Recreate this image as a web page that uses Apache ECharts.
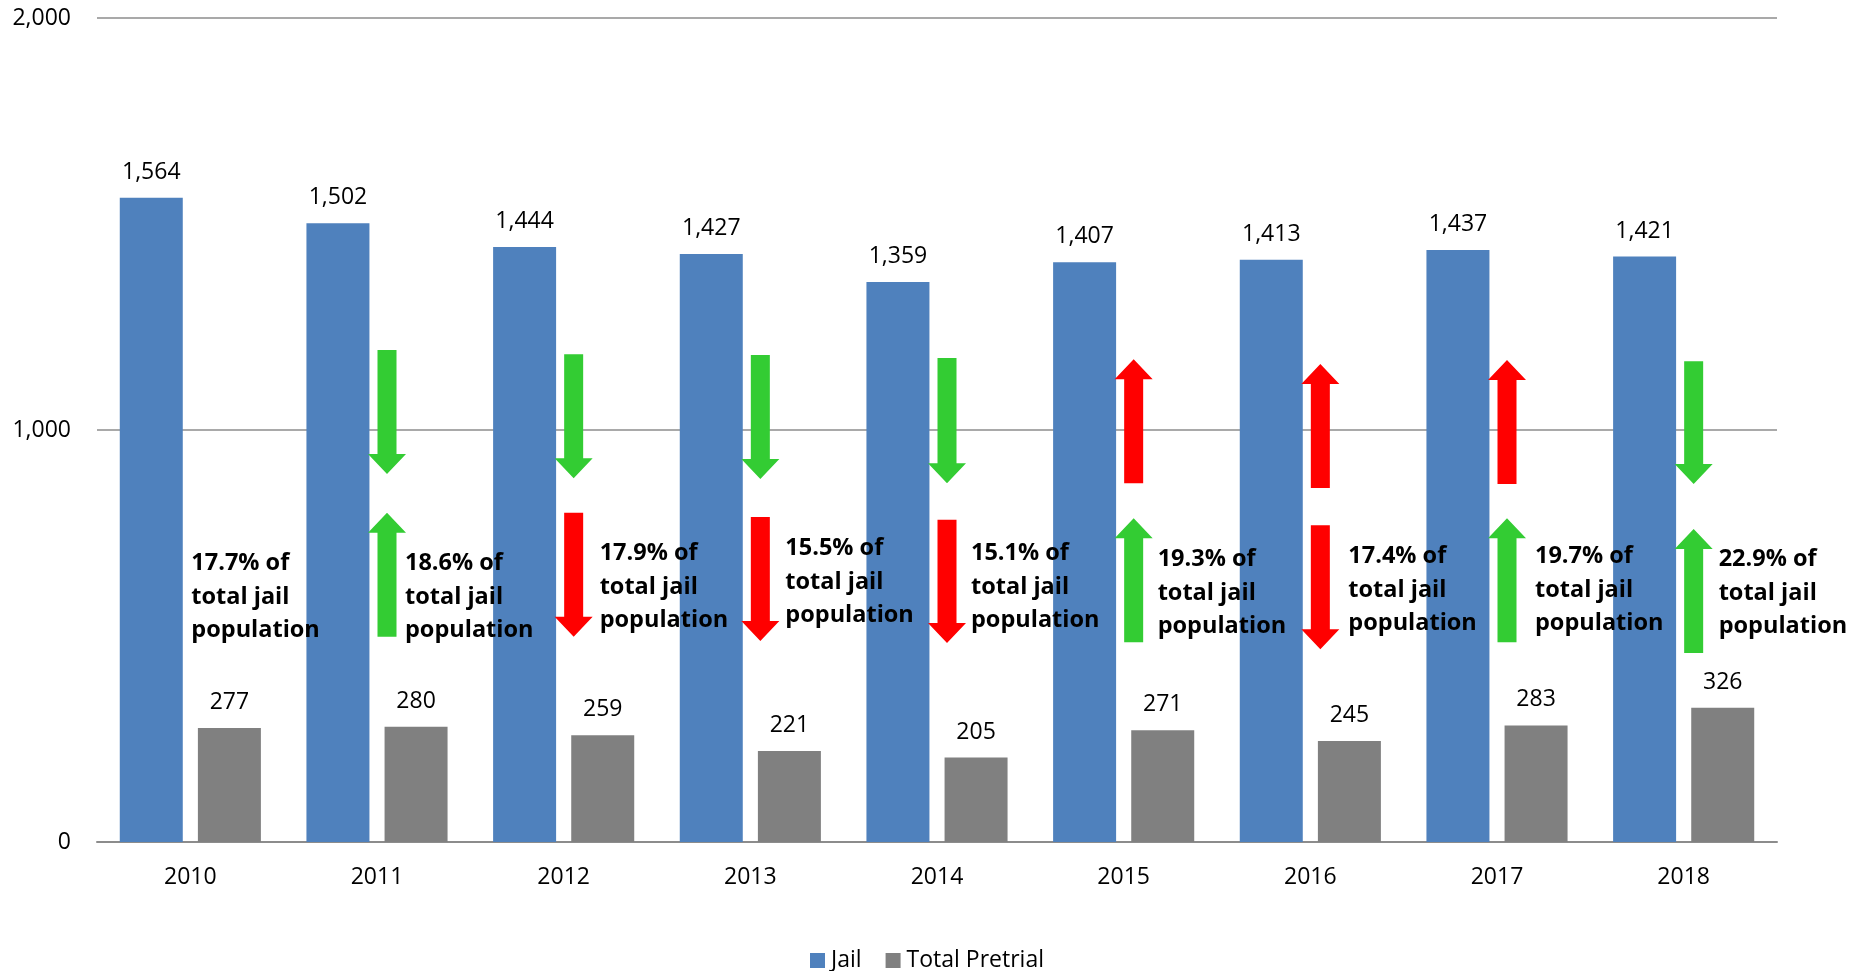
<!DOCTYPE html>
<html>
<head>
<meta charset="utf-8">
<script src="https://cdn.jsdelivr.net/npm/echarts@6/dist/echarts.min.js"></script>
<style>
  html, body { margin: 0; padding: 0; background: #ffffff; }
  #chart { width: 1854px; height: 971px; }
</style>
</head>
<body>
<div id="chart"></div>
<script>
// ---- data ----
const years = ['2010', '2011', '2012', '2013', '2014', '2015', '2016', '2017', '2018'];
const jail = [1564, 1502, 1444, 1427, 1359, 1407, 1413, 1437, 1421];
const pretrial = [277, 280, 259, 221, 205, 271, 245, 283, 326];
const sharePct = ['17.7%', '18.6%', '17.9%', '15.5%', '15.1%', '19.3%', '17.4%', '19.7%', '22.9%'];
const jailTrend = [null, 'down', 'down', 'down', 'down', 'up', 'up', 'up', 'down'];
const shareTrend = [null, 'up', 'down', 'down', 'down', 'up', 'down', 'up', 'up'];
const yTicks = [0, 1000, 2000];

// ---- annotation anchors, in axis value units ----
const upperArrowHigh = [null, 1194, 1184, 1182, 1175, 1172, 1160, 1170, 1167];
const upperArrowLow  = [null, 893, 883, 881, 871, 871, 859, 869, 869];
const lowerArrowHigh = [null, 799, 799, 789, 782, 786, 769, 786, 760];
const lowerArrowLow  = [null, 498, 498, 488, 483, 485, 468, 485, 459];
const textMid        = [595, 595, 619, 631, 619, 604, 612, 612, 604];
const textDx         = [1, 28, 36, 35, 34, 34, 38, 38, 35];

const GREEN = '#33CC33', RED = '#FF0000';
const FONT = '"Open Sans", "Noto Sans", sans-serif';

function arrowColor(kind, dir) {
  if (kind === 'jail') return dir === 'down' ? GREEN : RED;
  return dir === 'up' ? GREEN : RED;
}

const arrowData = [];
years.forEach((y, i) => {
  if (jailTrend[i]) arrowData.push([i, upperArrowHigh[i], upperArrowLow[i], jailTrend[i], 'jail']);
  if (shareTrend[i]) arrowData.push([i, lowerArrowHigh[i], lowerArrowLow[i], shareTrend[i], 'share']);
});
const textData = years.map((y, i) => [i, textMid[i], i]);

function renderArrow(params, api) {
  const d = arrowData[params.dataIndex];
  const pHi = api.coord([d[0], d[1]]);
  const pLo = api.coord([d[0], d[2]]);
  const x = pHi[0] + 10;
  const sw = 9.5, hw = 19, hl = 20;
  let tail, tip;
  if (d[3] === 'down') { tail = pHi[1]; tip = pLo[1]; }
  else { tail = pLo[1]; tip = pHi[1]; }
  const s = tip > tail ? 1 : -1;
  const base = tip - s * hl;
  return {
    type: 'polygon',
    shape: { points: [
      [x - sw, tail], [x + sw, tail], [x + sw, base], [x + hw, base],
      [x, tip], [x - hw, base], [x - sw, base]
    ] },
    style: { fill: arrowColor(d[4], d[3]) },
    z2: 10
  };
}

function renderText(params, api) {
  const d = textData[params.dataIndex];
  const p = api.coord([d[0], d[1]]);
  return {
    type: 'text',
    x: p[0] + textDx[d[2]],
    y: p[1],
    style: {
      text: sharePct[d[2]] + ' of\ntotal jail\npopulation',
      fill: '#000',
      fontSize: 23.5,
      fontWeight: 'bold',
      fontFamily: FONT,
      lineHeight: 33.5,
      align: 'left',
      verticalAlign: 'middle'
    },
    z2: 20
  };
}

const chart = echarts.init(document.getElementById('chart'), null, { renderer: 'canvas' });
chart.setOption({
  backgroundColor: '#ffffff',
  animation: false,
  textStyle: { fontFamily: FONT },
  grid: { left: 97, right: 77, top: 18, bottom: 129, containLabel: false },
  legend: {
    data: ['Jail', 'Total Pretrial'],
    left: 'center',
    top: 944,
    itemWidth: 15,
    itemHeight: 15,
    itemGap: 24,
    icon: 'rect',
    textStyle: { fontSize: 23, color: '#000', fontFamily: FONT, padding: [0, 0, 0, 1] }
  },
  xAxis: {
    type: 'category',
    data: years,
    axisTick: { show: false },
    axisLine: { lineStyle: { color: '#8c8c8c', width: 2 } },
    axisLabel: { color: '#000', fontSize: 23, margin: 24, fontFamily: FONT }
  },
  yAxis: {
    type: 'value',
    min: yTicks[0],
    max: yTicks[yTicks.length - 1],
    interval: yTicks[1] - yTicks[0],
    axisLine: { show: false },
    axisTick: { show: false },
    splitLine: { lineStyle: { color: '#8c8c8c', width: 1.5 } },
    axisLabel: {
      color: '#000', fontSize: 23, margin: 26, fontFamily: FONT,
      formatter: v => v.toLocaleString('en-US')
    }
  },
  series: [
    {
      name: 'Jail', type: 'bar', data: jail, barWidth: 63, barGap: '24%',
      itemStyle: { color: '#4F81BD' },
      label: { show: true, position: 'top', distance: 14, color: '#000', fontSize: 23, fontFamily: FONT,
               formatter: p => p.value.toLocaleString('en-US') }
    },
    {
      name: 'Total Pretrial', type: 'bar', data: pretrial, barWidth: 63,
      itemStyle: { color: '#808080' },
      label: { show: true, position: 'top', distance: 14, color: '#000', fontSize: 23, fontFamily: FONT,
               formatter: p => p.value.toLocaleString('en-US') }
    },
    {
      name: 'arrows', type: 'custom', data: arrowData, renderItem: renderArrow,
      encode: { x: 0, y: [1, 2] }, z: 5, silent: true
    },
    {
      name: 'shareText', type: 'custom', data: textData, renderItem: renderText,
      encode: { x: 0, y: 1 }, z: 6, silent: true
    }
  ]
});
</script>
</body>
</html>
